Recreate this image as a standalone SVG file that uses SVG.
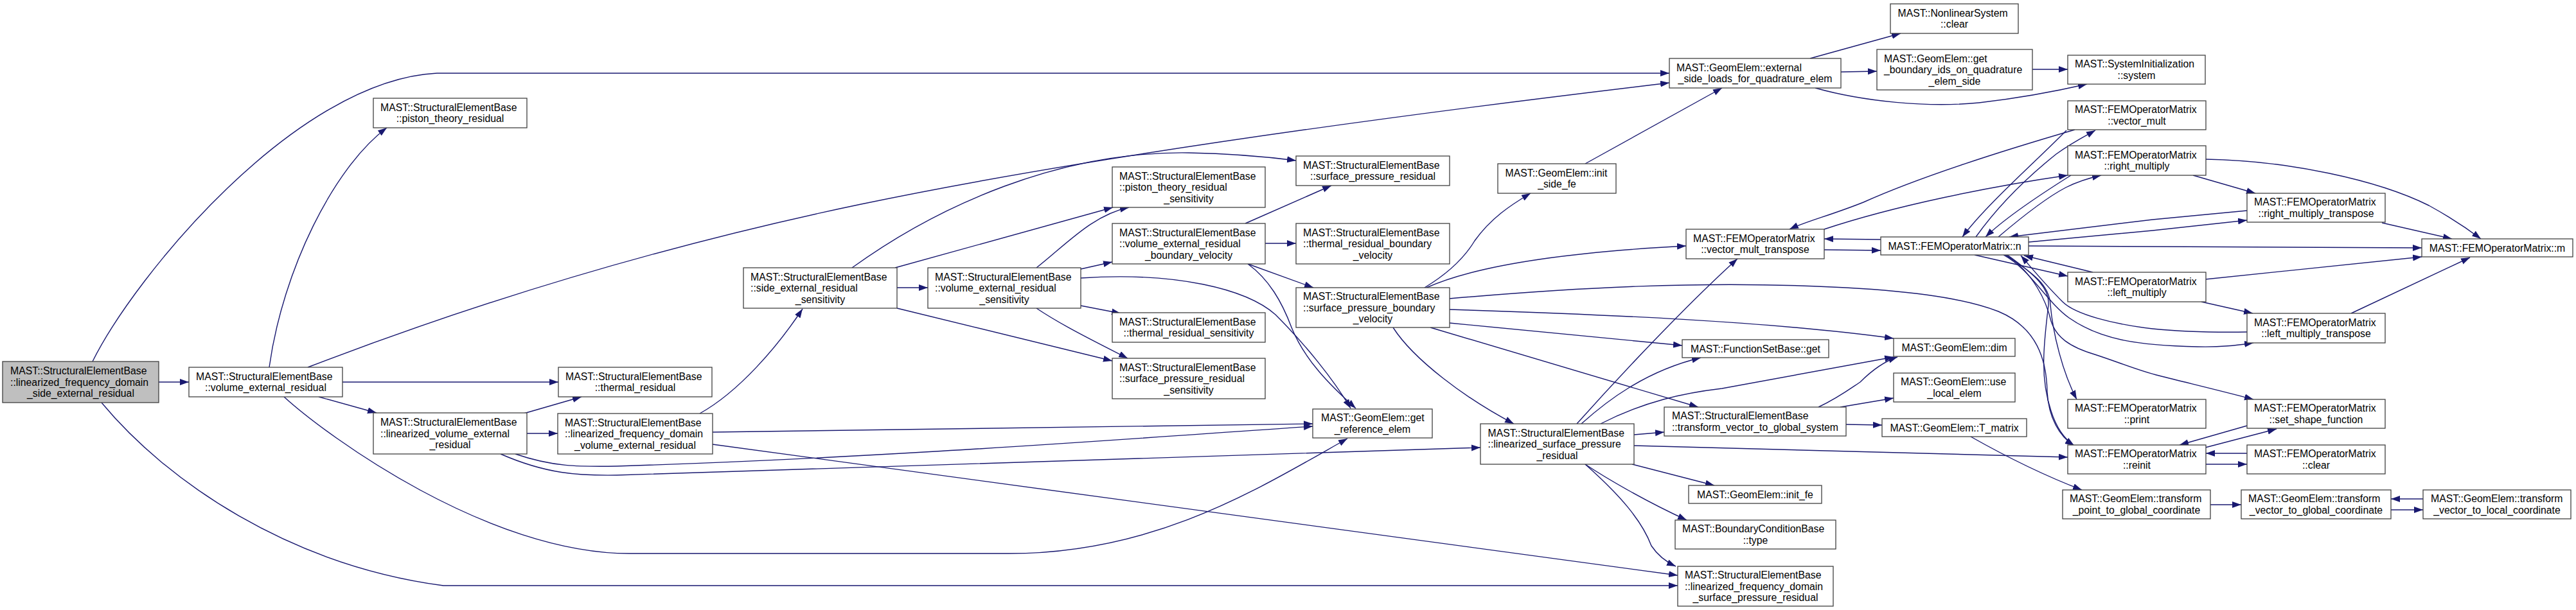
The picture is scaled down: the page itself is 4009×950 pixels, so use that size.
<svg xmlns="http://www.w3.org/2000/svg" width="4009" height="950" viewBox="0 0 4009 950">
<style>
.node rect{fill:#fff;stroke:#404040;stroke-width:1.3}
.root rect{fill:#bfbfbf}
text{font-family:"Liberation Sans",Arial,sans-serif;font-size:15.8px;fill:#000}
text.c{text-anchor:middle}
#edges path{fill:none;stroke:#191970;stroke-width:1.4;marker-end:url(#a)}
</style>
<defs>
<marker id="a" markerUnits="userSpaceOnUse" markerWidth="15" markerHeight="11" refX="14" refY="5" orient="auto"><path d="M0,0 L14,5 L0,10 z" fill="#191970"/></marker>
</defs>
<rect width="4009" height="950" fill="#fff"/>
<g id="edges">
<path d="M247,595 L294,595"/>
<path d="M144,563 C210,430 460,125 680,114 L2598,114"/>
<path d="M158,627 C260,750 450,880 690,912 L2611,912"/>
<path d="M419,572 C440,420 520,260 602,199"/>
<path d="M479,572 Q900,410 1340,318 T2598,129"/>
<path d="M533,595 L869,595"/>
<path d="M496,618 L586,643"/>
<path d="M442,618 C510,680 760,862 980,862 L1570,862 C1800,862 1960,760 2097,683"/>
<path d="M815,644 L905,618"/>
<path d="M820,675 L868,675"/>
<path d="M802,707 C860,727 900,727 960,726 C1400,712 1800,680 2043,664"/>
<path d="M779,707 C850,738 900,741 960,740 C1500,725 1900,710 2304,697"/>
<path d="M1089,644 C1150,610 1210,540 1249,481"/>
<path d="M1109,673 C1500,670 1800,663 2043,660"/>
<path d="M1109,692 L2611,896"/>
<path d="M1396,448 L1444,448"/>
<path d="M1393,417 L1732,323"/>
<path d="M1326,417 C1460,320 1650,235 1850,238 C1910,239 1970,244 2017,250"/>
<path d="M1396,480 L1731,562"/>
<path d="M1613,417 C1660,380 1700,335 1757,323"/>
<path d="M1682,419 L1731,408"/>
<path d="M1682,476 L1744,488"/>
<path d="M1613,480 C1650,505 1700,530 1755,558"/>
<path d="M1682,433 C1830,423 1940,450 1985,490 C2030,535 2075,590 2102,636"/>
<path d="M1969,379 L2017,379"/>
<path d="M1938,348 L2072,289"/>
<path d="M1942,411 L2044,448"/>
<path d="M1942,411 C1975,435 1995,470 2010,510 C2030,560 2070,600 2110,636"/>
<path d="M2217,448 C2255,425 2280,400 2295,375 C2320,340 2350,320 2382,301"/>
<path d="M2220,448 C2300,412 2450,392 2624,383"/>
<path d="M2256,482 C2500,490 2750,500 2947,527"/>
<path d="M2256,503 L2618,538"/>
<path d="M2226,510 L2643,634"/>
<path d="M2168,510 C2200,560 2280,620 2356,660"/>
<path d="M2256,465 C2450,448 2650,437 2851,447 C2960,452 3050,462 3110,485 C3170,510 3185,560 3186,610 C3188,650 3205,680 3228,694"/>
<path d="M2467,255 L2680,137"/>
<path d="M2817,91 L2958,52"/>
<path d="M2865,112 L2921,111"/>
<path d="M2825,137 C2900,158 3000,168 3080,160 C3150,152 3200,142 3248,131"/>
<path d="M3163,108 L3218,108"/>
<path d="M2454,660 C2530,575 2630,470 2704,403"/>
<path d="M2461,660 C2500,625 2560,578 2647,557"/>
<path d="M2491,660 C2560,625 2620,612 2680,605 L2947,556"/>
<path d="M2543,677 L2590,673"/>
<path d="M2543,694 L3218,712"/>
<path d="M2540,723 L2668,756"/>
<path d="M2467,723 C2500,745 2560,780 2625,810"/>
<path d="M2467,723 C2520,770 2555,810 2570,850 C2580,865 2595,876 2608,882"/>
<path d="M2830,634 C2860,620 2880,605 2895,595 C2915,575 2935,562 2953,556"/>
<path d="M2864,634 L2947,620"/>
<path d="M2873,661 L2929,662"/>
<path d="M3067,680 C3120,710 3180,740 3240,763"/>
<path d="M3440,786 L3488,786"/>
<path d="M3721,794 L3771,794"/>
<path d="M3771,777 L3721,777"/>
<path d="M2927,373 L2839,372"/>
<path d="M2839,389 L2927,390"/>
<path d="M3229,202 C3150,225 3000,270 2900,315 C2850,335 2810,345 2785,357"/>
<path d="M2839,357 C2950,320 3100,290 3218,273"/>
<path d="M3216,203 C3170,250 3090,320 3054,369"/>
<path d="M3075,369 C3110,320 3150,280 3200,240 C3225,222 3245,212 3261,203"/>
<path d="M3223,273 C3180,300 3120,340 3090,369"/>
<path d="M3110,369 C3150,335 3190,305 3215,292 C3235,282 3252,277 3270,273"/>
<path d="M3497,328 L3350,342 L3127,369"/>
<path d="M3157,377 L3350,359 L3497,343"/>
<path d="M3157,383 L3769,386"/>
<path d="M3073,397 L3218,430"/>
<path d="M3257,424 L3150,398"/>
<path d="M3120,397 C3165,425 3190,445 3191,475 C3195,520 3210,580 3232,622"/>
<path d="M3124,397 C3170,430 3190,450 3188,475 C3180,540 3175,590 3192,640 C3200,665 3212,683 3228,694"/>
<path d="M3118,397 C3160,420 3185,470 3220,495 C3270,530 3330,538 3420,540 C3460,541 3485,537 3507,534"/>
<path d="M3497,517 C3430,518 3380,515 3350,512 C3290,505 3230,490 3210,470 C3180,440 3160,415 3145,398"/>
<path d="M3122,397 C3165,425 3185,470 3192,500 C3200,525 3220,540 3260,552 C3300,565 3330,578 3360,585 C3420,600 3470,612 3507,622"/>
<path d="M3433,248 C3560,250 3700,280 3780,320 C3820,342 3845,360 3861,372"/>
<path d="M3413,273 L3510,301"/>
<path d="M3707,347 L3816,372"/>
<path d="M3432,435 L3769,400"/>
<path d="M3426,470 L3506,488"/>
<path d="M3659,488 L3844,401"/>
<path d="M3497,663 L3392,693"/>
<path d="M3432,697 L3543,668"/>
<path d="M3497,706 L3433,706"/>
<path d="M3433,723 L3497,723"/>
</g>
<g id="n_root" class="node root"><rect x="4" y="563" width="243" height="64"/><text x="16" y="583">MAST::StructuralElementBase</text><text x="16" y="600.5">::linearized_frequency_domain</text><text class="c" x="125.5" y="618">_side_external_residual</text></g>
<g id="n_ver" class="node"><rect x="294" y="572" width="239" height="46"/><text x="305" y="591.75">MAST::StructuralElementBase</text><text class="c" x="413.5" y="609.25">::volume_external_residual</text></g>
<g id="n_ptr" class="node"><rect x="581" y="153" width="239" height="46"/><text x="592" y="172.75">MAST::StructuralElementBase</text><text class="c" x="700.5" y="190.25">::piston_theory_residual</text></g>
<g id="n_lver" class="node"><rect x="581" y="643" width="239" height="64"/><text x="592" y="663">MAST::StructuralElementBase</text><text x="592" y="680.5">::linearized_volume_external</text><text class="c" x="700.5" y="698">_residual</text></g>
<g id="n_tr" class="node"><rect x="869" y="572" width="239" height="46"/><text x="880" y="591.75">MAST::StructuralElementBase</text><text class="c" x="988.5" y="609.25">::thermal_residual</text></g>
<g id="n_lfv" class="node"><rect x="868" y="644" width="241" height="63"/><text x="879" y="663.5">MAST::StructuralElementBase</text><text x="879" y="681">::linearized_frequency_domain</text><text class="c" x="988.5" y="698.5">_volume_external_residual</text></g>
<g id="n_ses" class="node"><rect x="1157" y="417" width="239" height="63"/><text x="1168" y="436.5">MAST::StructuralElementBase</text><text x="1168" y="454">::side_external_residual</text><text class="c" x="1276.5" y="471.5">_sensitivity</text></g>
<g id="n_vers" class="node"><rect x="1444" y="417" width="238" height="63"/><text x="1455" y="436.5">MAST::StructuralElementBase</text><text x="1455" y="454">::volume_external_residual</text><text class="c" x="1563" y="471.5">_sensitivity</text></g>
<g id="n_ptrs" class="node"><rect x="1731" y="260" width="238" height="63"/><text x="1742" y="279.5">MAST::StructuralElementBase</text><text x="1742" y="297">::piston_theory_residual</text><text class="c" x="1850" y="314.5">_sensitivity</text></g>
<g id="n_verbv" class="node"><rect x="1731" y="348" width="238" height="63"/><text x="1742" y="367.5">MAST::StructuralElementBase</text><text x="1742" y="385">::volume_external_residual</text><text class="c" x="1850" y="402.5">_boundary_velocity</text></g>
<g id="n_trs" class="node"><rect x="1731" y="487" width="238" height="46"/><text x="1742" y="506.75">MAST::StructuralElementBase</text><text class="c" x="1850" y="524.25">::thermal_residual_sensitivity</text></g>
<g id="n_sprs" class="node"><rect x="1731" y="558" width="238" height="63"/><text x="1742" y="577.5">MAST::StructuralElementBase</text><text x="1742" y="595">::surface_pressure_residual</text><text class="c" x="1850" y="612.5">_sensitivity</text></g>
<g id="n_spr" class="node"><rect x="2017" y="243" width="239" height="46"/><text x="2028" y="262.75">MAST::StructuralElementBase</text><text class="c" x="2136.5" y="280.25">::surface_pressure_residual</text></g>
<g id="n_trbv" class="node"><rect x="2017" y="348" width="239" height="63"/><text x="2028" y="367.5">MAST::StructuralElementBase</text><text x="2028" y="385">::thermal_residual_boundary</text><text class="c" x="2136.5" y="402.5">_velocity</text></g>
<g id="n_spbv" class="node"><rect x="2017" y="448" width="239" height="62"/><text x="2028" y="467">MAST::StructuralElementBase</text><text x="2028" y="484.5">::surface_pressure_boundary</text><text class="c" x="2136.5" y="502">_velocity</text></g>
<g id="n_gre" class="node"><rect x="2043" y="637" width="186" height="45"/><text x="2056" y="656.25">MAST::GeomElem::get</text><text class="c" x="2136" y="673.75">_reference_elem</text></g>
<g id="n_isf" class="node"><rect x="2331" y="255" width="184" height="46"/><text x="2342.5" y="274.75">MAST::GeomElem::init</text><text class="c" x="2423" y="292.25">_side_fe</text></g>
<g id="n_esl" class="node"><rect x="2598" y="91" width="267" height="46"/><text x="2609" y="110.75">MAST::GeomElem::external</text><text class="c" x="2731.5" y="128.25">_side_loads_for_quadrature_elem</text></g>
<g id="n_lspr" class="node"><rect x="2304" y="660" width="239" height="63"/><text x="2315.5" y="679.5">MAST::StructuralElementBase</text><text x="2315.5" y="697">::linearized_surface_pressure</text><text class="c" x="2423.5" y="714.5">_residual</text></g>
<g id="n_vmt" class="node"><rect x="2624" y="357" width="215" height="46"/><text x="2635" y="376.75">MAST::FEMOperatorMatrix</text><text class="c" x="2731.5" y="394.25">::vector_mult_transpose</text></g>
<g id="n_fsb" class="node"><rect x="2618" y="529" width="228" height="28"/><text class="c" x="2732" y="548.5">MAST::FunctionSetBase::get</text></g>
<g id="n_t2g" class="node"><rect x="2590" y="634" width="283" height="45"/><text x="2602" y="653.25">MAST::StructuralElementBase</text><text class="c" x="2731.5" y="670.75">::transform_vector_to_global_system</text></g>
<g id="n_ife" class="node"><rect x="2628" y="756" width="207" height="28"/><text class="c" x="2731.5" y="775.5">MAST::GeomElem::init_fe</text></g>
<g id="n_bct" class="node"><rect x="2607" y="810" width="250" height="45"/><text x="2618" y="829.25">MAST::BoundaryConditionBase</text><text class="c" x="2732" y="846.75">::type</text></g>
<g id="n_lfspr" class="node"><rect x="2611" y="882" width="242" height="62"/><text x="2622" y="901">MAST::StructuralElementBase</text><text x="2622" y="918.5">::linearized_frequency_domain</text><text class="c" x="2732" y="936">_surface_pressure_residual</text></g>
<g id="n_nlc" class="node"><rect x="2942" y="6" width="199" height="46"/><text x="2953.5" y="25.75">MAST::NonlinearSystem</text><text class="c" x="3041.5" y="43.25">::clear</text></g>
<g id="n_gbi" class="node"><rect x="2921" y="77" width="242" height="63"/><text x="2932" y="96.5">MAST::GeomElem::get</text><text x="2932" y="114">_boundary_ids_on_quadrature</text><text class="c" x="3042" y="131.5">_elem_side</text></g>
<g id="n_sys" class="node"><rect x="3218" y="86" width="214" height="45"/><text x="3229" y="105.25">MAST::SystemInitialization</text><text class="c" x="3325" y="122.75">::system</text></g>
<g id="n_vm" class="node"><rect x="3218" y="157" width="215" height="45"/><text x="3229" y="176.25">MAST::FEMOperatorMatrix</text><text class="c" x="3325.5" y="193.75">::vector_mult</text></g>
<g id="n_rm" class="node"><rect x="3218" y="227" width="215" height="46"/><text x="3229" y="246.75">MAST::FEMOperatorMatrix</text><text class="c" x="3325.5" y="264.25">::right_multiply</text></g>
<g id="n_n" class="node"><rect x="2927" y="369" width="230" height="28"/><text class="c" x="3042" y="388.5">MAST::FEMOperatorMatrix::n</text></g>
<g id="n_lm" class="node"><rect x="3218" y="424" width="215" height="46"/><text x="3229" y="443.75">MAST::FEMOperatorMatrix</text><text class="c" x="3325.5" y="461.25">::left_multiply</text></g>
<g id="n_rmt" class="node"><rect x="3497" y="301" width="215" height="45"/><text x="3508" y="320.25">MAST::FEMOperatorMatrix</text><text class="c" x="3604.5" y="337.75">::right_multiply_transpose</text></g>
<g id="n_m" class="node"><rect x="3769" y="372" width="235" height="28"/><text class="c" x="3886.5" y="391.5">MAST::FEMOperatorMatrix::m</text></g>
<g id="n_lmt" class="node"><rect x="3497" y="488" width="215" height="46"/><text x="3508" y="507.75">MAST::FEMOperatorMatrix</text><text class="c" x="3604.5" y="525.25">::left_multiply_transpose</text></g>
<g id="n_dim" class="node"><rect x="2947" y="527" width="189" height="28"/><text class="c" x="3041.5" y="546.5">MAST::GeomElem::dim</text></g>
<g id="n_ule" class="node"><rect x="2947" y="581" width="189" height="45"/><text x="2958" y="600.25">MAST::GeomElem::use</text><text class="c" x="3041.5" y="617.75">_local_elem</text></g>
<g id="n_tm" class="node"><rect x="2929" y="652" width="225" height="28"/><text class="c" x="3041.5" y="671.5">MAST::GeomElem::T_matrix</text></g>
<g id="n_prn" class="node"><rect x="3218" y="622" width="215" height="45"/><text x="3229" y="641.25">MAST::FEMOperatorMatrix</text><text class="c" x="3325.5" y="658.75">::print</text></g>
<g id="n_rin" class="node"><rect x="3218" y="693" width="215" height="45"/><text x="3229" y="712.25">MAST::FEMOperatorMatrix</text><text class="c" x="3325.5" y="729.75">::reinit</text></g>
<g id="n_ssf" class="node"><rect x="3497" y="622" width="215" height="45"/><text x="3508" y="641.25">MAST::FEMOperatorMatrix</text><text class="c" x="3604.5" y="658.75">::set_shape_function</text></g>
<g id="n_clr" class="node"><rect x="3497" y="693" width="215" height="45"/><text x="3508" y="712.25">MAST::FEMOperatorMatrix</text><text class="c" x="3604.5" y="729.75">::clear</text></g>
<g id="n_tpg" class="node"><rect x="3210" y="763" width="230" height="45"/><text x="3221" y="782.25">MAST::GeomElem::transform</text><text class="c" x="3325" y="799.75">_point_to_global_coordinate</text></g>
<g id="n_tvg" class="node"><rect x="3488" y="763" width="233" height="45"/><text x="3499" y="782.25">MAST::GeomElem::transform</text><text class="c" x="3604.5" y="799.75">_vector_to_global_coordinate</text></g>
<g id="n_tvl" class="node"><rect x="3771" y="763" width="230" height="45"/><text x="3783" y="782.25">MAST::GeomElem::transform</text><text class="c" x="3886" y="799.75">_vector_to_local_coordinate</text></g>
</svg>
